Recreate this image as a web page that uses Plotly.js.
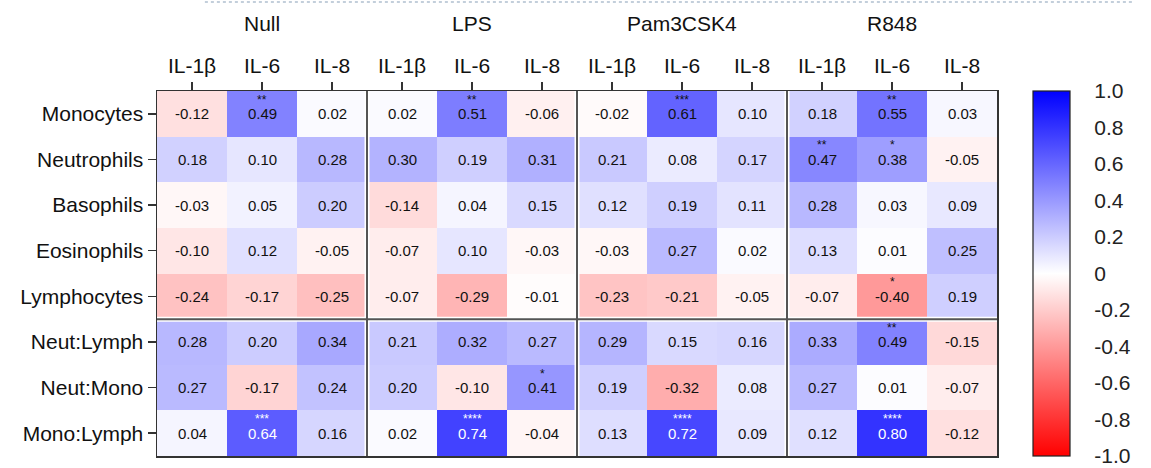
<!DOCTYPE html>
<html>
<head>
<meta charset="utf-8">
<script src="https://cdn.plot.ly/plotly-3.0.1.min.js"></script>
<style>html,body{margin:0;padding:0;background:#fff;}#chart{width:1151px;height:468px;}</style>
</head>
<body>
<div id="chart"></div>
<script>
const groups = ['Null', 'LPS', 'Pam3CSK4', 'R848'];
const cytokines = ['IL-1β', 'IL-6', 'IL-8'];
const rowLabels = ['Monocytes', 'Neutrophils', 'Basophils', 'Eosinophils', 'Lymphocytes', 'Neut:Lymph', 'Neut:Mono', 'Mono:Lymph'];

const monocytes   = [-0.12, 0.49, 0.02,  0.02, 0.51, -0.06, -0.02, 0.61, 0.10,  0.18, 0.55, 0.03];
const neutrophils = [ 0.18, 0.10, 0.28,  0.30, 0.19,  0.31,  0.21, 0.08, 0.17,  0.47, 0.38, -0.05];
const basophils   = [-0.03, 0.05, 0.20, -0.14, 0.04,  0.15,  0.12, 0.19, 0.11,  0.28, 0.03, 0.09];
const eosinophils = [-0.10, 0.12, -0.05, -0.07, 0.10, -0.03, -0.03, 0.27, 0.02,  0.13, 0.01, 0.25];
const lymphocytes = [-0.24, -0.17, -0.25, -0.07, -0.29, -0.01, -0.23, -0.21, -0.05, -0.07, -0.40, 0.19];
const neutLymph   = [ 0.28, 0.20, 0.34,  0.21, 0.32,  0.27,  0.29, 0.15, 0.16,  0.33, 0.49, -0.15];
const neutMono    = [ 0.27, -0.17, 0.24,  0.20, -0.10, 0.41,  0.19, -0.32, 0.08, 0.27, 0.01, -0.07];
const monoLymph   = [ 0.04, 0.64, 0.16,  0.02, 0.74, -0.04,  0.13, 0.72, 0.09,  0.12, 0.80, -0.12];

const sigMonocytes   = ['', '**', '', '', '**', '', '', '***', '', '', '**', ''];
const sigNeutrophils = ['', '', '', '', '', '', '', '', '', '**', '*', ''];
const sigBasophils   = ['', '', '', '', '', '', '', '', '', '', '', ''];
const sigEosinophils = ['', '', '', '', '', '', '', '', '', '', '', ''];
const sigLymphocytes = ['', '', '', '', '', '', '', '', '', '', '*', ''];
const sigNeutLymph   = ['', '', '', '', '', '', '', '', '', '', '**', ''];
const sigNeutMono    = ['', '', '', '', '', '*', '', '', '', '', '', ''];
const sigMonoLymph   = ['', '***', '', '', '****', '', '', '****', '', '', '****', ''];

const colorTicks = [1.0, 0.8, 0.6, 0.4, 0.2, 0, -0.2, -0.4, -0.6, -0.8, -1.0];
const colorTickText = ['1.0', '0.8', '0.6', '0.4', '0.2', '0', '-0.2', '-0.4', '-0.6', '-0.8', '-1.0'];

const z = [monocytes, neutrophils, basophils, eosinophils, lymphocytes, neutLymph, neutMono, monoLymph];
const sig = [sigMonocytes, sigNeutrophils, sigBasophils, sigEosinophils, sigLymphocytes, sigNeutLymph, sigNeutMono, sigMonoLymph];

const colLabels = [];
groups.forEach(() => cytokines.forEach(c => colLabels.push(c)));
const xIdx = colLabels.map((_, i) => i);
const yIdx = rowLabels.map((_, i) => i);

const FONT = 'Liberation Sans, Arial, sans-serif';
const TOP = 91, BOTTOM = 12, PLOT_H = 468 - TOP - BOTTOM;

const annotations = [];
z.forEach((row, i) => {
  row.forEach((v, j) => {
    const col = v >= 0.62 ? '#ffffff' : '#111111';
    annotations.push({x: j, y: i, xref: 'x', yref: 'y', text: v.toFixed(2), showarrow: false,
      font: {family: FONT, size: 15, color: col}});
    if (sig[i][j]) {
      annotations.push({x: j, y: i, xref: 'x', yref: 'y', text: sig[i][j], showarrow: false,
        yshift: 14, font: {family: FONT, size: 12, color: col}});
    }
  });
});
groups.forEach((g, k) => {
  annotations.push({x: k * 3 + 1, y: 1 + (TOP - 24) / PLOT_H, xref: 'x', yref: 'paper', text: g, showarrow: false,
    yanchor: 'middle', font: {family: FONT, size: 21, color: '#111'}});
});

const shapes = [];
// group separators
[2.5, 5.5, 8.5].forEach(xv => {
  shapes.push({type: 'line', xref: 'x', yref: 'paper', x0: xv, x1: xv, y0: 0, y1: 1, line: {color: '#ffffff', width: 5}});
});
shapes.push({type: 'line', xref: 'paper', yref: 'y', x0: 0, x1: 1, y0: 4.5, y1: 4.5, line: {color: '#ffffff', width: 5}});
[2.5, 5.5, 8.5].forEach(xv => {
  shapes.push({type: 'line', xref: 'x', yref: 'paper', x0: xv, x1: xv, y0: 0, y1: 1, line: {color: '#555555', width: 2}});
});
shapes.push({type: 'line', xref: 'paper', yref: 'y', x0: 0, x1: 1, y0: 4.5, y1: 4.5, line: {color: '#555555', width: 2}});
// dotted page line at top
shapes.push({type: 'line', xref: 'paper', yref: 'paper', x0: 0.057, x1: 1.164, y0: 1 + (TOP - 2) / PLOT_H, y1: 1 + (TOP - 2) / PLOT_H,
  line: {color: '#c3cfdb', width: 2, dash: 'dot'}});
// inside colorbar ticks on both sides
const cbX = (1033 - 157) / 840;
const cbX2 = (1070 - 157) / 840;
colorTicks.forEach(v => {
  if (Math.abs(v) < 1) {
    shapes.push({type: 'line', xref: 'paper', yref: 'paper', x0: cbX, x1: cbX + 7 / 840,
      y0: (v + 1) / 2, y1: (v + 1) / 2, line: {color: '#222', width: 1.2}});
    shapes.push({type: 'line', xref: 'paper', yref: 'paper', x0: cbX2 - 7 / 840, x1: cbX2,
      y0: (v + 1) / 2, y1: (v + 1) / 2, line: {color: '#222', width: 1.2}});
  }
});

const trace = {
  type: 'heatmap',
  x: xIdx, y: yIdx, z: z,
  zmin: -1, zmax: 1,
  colorscale: [[0, '#ff0000'], [0.5, '#ffffff'], [1, '#0000ff']],
  hoverinfo: 'skip',
  colorbar: {
    x: cbX, xanchor: 'left', xpad: 0, y: 0.5, yanchor: 'middle', ypad: 0,
    len: 1, lenmode: 'fraction', thickness: 37, thicknessmode: 'pixels',
    outlinewidth: 1.2, outlinecolor: '#222',
    tickmode: 'array', tickvals: colorTicks.map(v => Math.max(-0.9999, Math.min(0.9999, v))), ticktext: colorTickText,
    ticks: 'outside', ticklen: 20, tickcolor: 'rgba(0,0,0,0)', tickwidth: 1,
    ticklabeloverflow: 'allow',
    tickfont: {family: FONT, size: 21, color: '#222'}
  }
};

const layout = {
  width: 1151, height: 468,
  margin: {l: 157, r: 154, t: TOP, b: BOTTOM},
  paper_bgcolor: '#ffffff', plot_bgcolor: '#ffffff',
  font: {family: FONT, color: '#111'},
  xaxis: {
    side: 'top', range: [-0.5, 11.5], tickmode: 'array', tickvals: xIdx, ticktext: colLabels,
    ticks: 'outside', ticklen: 8, tickwidth: 1.5, tickcolor: '#333',
    showline: true, linecolor: '#333', linewidth: 1.5, mirror: true,
    showgrid: false, zeroline: false, fixedrange: true,
    tickfont: {family: FONT, size: 21, color: '#111'}
  },
  yaxis: {
    range: [7.5, -0.5], tickmode: 'array', tickvals: yIdx, ticktext: rowLabels,
    ticks: 'outside', ticklen: 8, tickwidth: 1.5, tickcolor: '#333',
    showline: true, linecolor: '#333', linewidth: 1.5, mirror: true,
    showgrid: false, zeroline: false, fixedrange: true,
    tickfont: {family: FONT, size: 21, color: '#111'}
  },
  annotations: annotations,
  shapes: shapes,
  showlegend: false
};

Plotly.newPlot('chart', [trace], layout, {staticPlot: true, displayModeBar: false});
</script>
</body>
</html>
